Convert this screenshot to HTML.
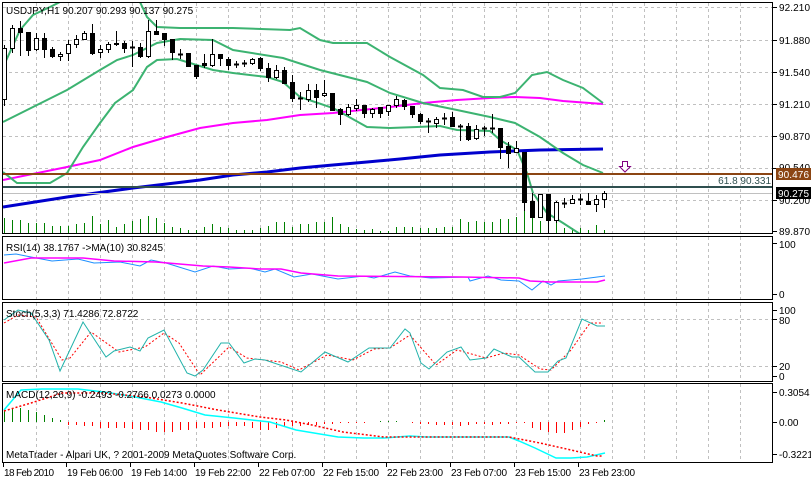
<!DOCTYPE html>
<html><head><meta charset="utf-8"><style>
html,body{margin:0;padding:0;background:#fff;}
svg{display:block;font-family:"Liberation Sans",sans-serif;font-size:10px;}
</style></head><body>
<svg id="s" width="811" height="479" viewBox="0 0 811 479" xmlns="http://www.w3.org/2000/svg">
<rect width="811" height="479" fill="#fff"/>
<defs>
<clipPath id="cm"><rect x="3" y="3" width="769" height="230"/></clipPath>
</defs>
<g id="grid" stroke="#c0c0c0" stroke-dasharray="3,3" stroke-width="1"></g>
<g id="main" clip-path="url(#cm)"></g>
<g id="low"></g>
<g fill="none" stroke="#000" stroke-width="1">
<rect x="2.5" y="2.5" width="770" height="231"/>
<rect x="2.5" y="236.5" width="770" height="63"/>
<rect x="2.5" y="302.5" width="770" height="79"/>
<rect x="2.5" y="383.5" width="770" height="79"/>
</g>
<g stroke="#000">
<line x1="773" y1="7.5" x2="777" y2="7.5"/><line x1="773" y1="40.5" x2="777" y2="40.5"/>
<line x1="773" y1="72.5" x2="777" y2="72.5"/><line x1="773" y1="104.5" x2="777" y2="104.5"/>
<line x1="773" y1="136.5" x2="777" y2="136.5"/><line x1="773" y1="168.5" x2="777" y2="168.5"/>
<line x1="773" y1="200.5" x2="777" y2="200.5"/><line x1="773" y1="231.5" x2="777" y2="231.5"/>
<line x1="773" y1="243.5" x2="777" y2="243.5"/><line x1="773" y1="294.5" x2="777" y2="294.5"/>
<line x1="773" y1="310.5" x2="777" y2="310.5"/><line x1="773" y1="319.5" x2="777" y2="319.5"/>
<line x1="773" y1="366.5" x2="777" y2="366.5"/><line x1="773" y1="376.5" x2="777" y2="376.5"/>
<line x1="773" y1="392.5" x2="777" y2="392.5"/><line x1="773" y1="422.5" x2="777" y2="422.5"/>
<line x1="773" y1="454.5" x2="777" y2="454.5"/>
</g>
<g fill="#000">
<text x="779" y="11" textLength="31">92.210</text>
<text x="779" y="44" textLength="31">91.880</text>
<text x="779" y="76" textLength="31">91.540</text>
<text x="779" y="108" textLength="31">91.210</text>
<text x="779" y="140" textLength="31">90.870</text>
<text x="779" y="171" textLength="31">90.540</text>
<text x="779" y="204" textLength="31">90.200</text>
<text x="779" y="235" textLength="31">89.870</text>
<text x="779" y="248">100</text>
<text x="779" y="298">0</text>
<text x="779" y="314">100</text>
<text x="779" y="324">80</text>
<text x="779" y="370">20</text>
<text x="779" y="380">0</text>
<text x="779" y="396">0.3054</text>
<text x="779" y="426">0.00</text>
<text x="779" y="458">-0.3221</text>
</g>
<rect x="776" y="168" width="35" height="12" fill="#8b4513"/>
<text x="778" y="178" fill="#fff" textLength="31">90.476</text>
<rect x="776" y="187" width="35" height="12" fill="#000"/>
<text x="778" y="197" fill="#fff" textLength="31">90.275</text>
<text x="771" y="184" fill="#2f4f4f" text-anchor="end">61.8 90.331</text>
<path d="M622.5,161.5h5v5h3l-5.5,5.5l-5.5,-5.5h3z" fill="#fff" stroke="#800080"/>
<text x="6" y="14" fill="#000">USDJPY,H1  90.207 90.293 90.137 90.275</text>
<text x="6" y="251" fill="#000">RSI(14) 38.1767  -&gt;MA(10) 30.8245</text>
<text x="6" y="317" fill="#000">Stoch(5,3,3) 71.4286 72.8722</text>
<text x="6" y="398" fill="#000">MACD(12,26,9) -0.2493 -0.2766 0.0273 0.0000</text>
<text x="6" y="458" fill="#000">MetaTrader - Alpari UK, ? 2001-2009 MetaQuotes Software Corp.</text>
<g fill="#000">
<text x="4" y="476" textLength="50">18 Feb 2010</text>
<text x="67" y="476" textLength="56">19 Feb 06:00</text>
<text x="131" y="476" textLength="56">19 Feb 14:00</text>
<text x="195" y="476" textLength="56">19 Feb 22:00</text>
<text x="259" y="476" textLength="56">22 Feb 07:00</text>
<text x="323" y="476" textLength="56">22 Feb 15:00</text>
<text x="387" y="476" textLength="56">22 Feb 23:00</text>
<text x="451" y="476" textLength="56">23 Feb 07:00</text>
<text x="515" y="476" textLength="56">23 Feb 15:00</text>
<text x="579" y="476" textLength="56">23 Feb 23:00</text>
</g>
<g stroke="#000">
<line x1="3.5" y1="463" x2="3.5" y2="467"/><line x1="66.5" y1="463" x2="66.5" y2="467"/>
<line x1="130.5" y1="463" x2="130.5" y2="467"/><line x1="194.5" y1="463" x2="194.5" y2="467"/>
<line x1="258.5" y1="463" x2="258.5" y2="467"/><line x1="322.5" y1="463" x2="322.5" y2="467"/>
<line x1="386.5" y1="463" x2="386.5" y2="467"/><line x1="450.5" y1="463" x2="450.5" y2="467"/>
<line x1="514.5" y1="463" x2="514.5" y2="467"/><line x1="578.5" y1="463" x2="578.5" y2="467"/>
</g>
</svg>
<script>
var NS="http://www.w3.org/2000/svg";
function el(p,t,a){var e=document.createElementNS(NS,t);for(var k in a)e.setAttribute(k,a[k]);p.appendChild(e);return e;}
var grid=document.getElementById("grid"),main=document.getElementById("main"),low=document.getElementById("low");
for(var x=36;x<772;x+=32){
 el(grid,"line",{x1:x+.5,y1:3,x2:x+.5,y2:233});
 el(grid,"line",{x1:x+.5,y1:237,x2:x+.5,y2:299});
 el(grid,"line",{x1:x+.5,y1:303,x2:x+.5,y2:381});
 el(grid,"line",{x1:x+.5,y1:384,x2:x+.5,y2:462});
}
[7,40,72,104,136,168,200].forEach(function(y){el(grid,"line",{x1:3,y1:y+.5,x2:772,y2:y+.5});});
[319,366].forEach(function(y){el(grid,"line",{x1:3,y1:y+.5,x2:772,y2:y+.5});});
function pl(p,pts,col,w,dash){var a={points:pts.map(function(q){return q.join(",")}).join(" "),fill:"none",stroke:col,"stroke-width":w};if(dash)a["stroke-dasharray"]=dash;el(p,"polyline",a);}
var vt=[218,218,220,220,223,223,223,226,226,226,224,223,216,224,220,227,224,221,219,216,218,223,227,228,230,230,227,224,227,228,230,230,230,228,226,222,222,227,224,224,222,222,217,224,227,229,230,229,231,231,227,227,227,228,228,228,227,227,219,222,221,222,222,219,219,217,210,217,221,221,221,228,228,228,230,225,230];
for(var i=0;i<76;i++){var x=4+8*i;el(main,"line",{x1:x+.5,y1:vt[i+1]||228,x2:x+.5,y2:233,stroke:"#008000"});}
pl(main,[[3,207],[67,197],[133,188],[200,180],[233,175],[267,172],[300,168],[333,165],[367,162],[400,159],[440,155],[490,152],[540,150],[603,149]],"#0000cd",3);
pl(main,[[3,180],[67,167],[100,160],[133,147],[167,137],[200,128],[233,123],[267,120],[300,115],[333,113],[390,107],[423,103],[457,100],[490,98],[515,97],[540,98],[563,101],[603,104]],"#ff00ff",2);
var g="#3cb371";
pl(main,[[3,70],[5,63],[20,30],[33,15],[50,7],[60,2]],g,2);
pl(main,[[140,2],[147,17],[157,27],[180,28],[233,28],[290,30],[300,28],[320,40],[333,43],[367,43],[390,57],[423,75],[440,88],[463,90],[483,97],[500,97],[515,93],[532,75],[547,72],[563,80],[583,88],[603,103]],g,2);
pl(main,[[3,122],[33,107],[67,90],[100,70],[117,60],[133,55],[147,48],[157,43],[180,39],[213,40],[233,50],[283,58],[320,70],[367,82],[390,93],[423,103],[457,110],[490,117],[515,123],[540,137],[563,153],[583,165],[603,173]],g,2);
pl(main,[[3,172],[17,183],[50,183],[67,173],[83,147],[100,123],[115,103],[133,90],[147,67],[157,60],[177,59],[213,70],[233,73],[267,77],[283,82],[300,97],[333,108],[367,127],[390,128],[417,127],[440,126],[457,130],[490,131],[500,140],[517,150],[527,173],[533,193],[547,213],[563,223],[580,234]],g,2);
el(main,"rect",{x:3,y:173,width:770,height:2,fill:"#8b4513"});
el(main,"rect",{x:3,y:186,width:770,height:2,fill:"#2f4f4f"});
el(main,"line",{x1:3,y1:193.5,x2:772,y2:193.5,stroke:"#c0c0c0"});
var C=[[48,99,0,45,105],[28,48,0,25,52],[28,32,1,21,55],[32,50,1,32,55],[38,49,0,33,50],[38,49,1,33,57],[49,56,1,47,57],[54,56,0,52,60],[44,53,0,40,60],[39,44,0,35,47],[33,39,0,31,39],[33,53,1,24,54],[49,52,0,45,57],[44,49,0,42,52],[43,44,1,31,45],[43,48,1,41,52],[47,47,2,41,66],[47,56,1,43,57],[31,56,0,20,57],[31,34,1,20,34],[33,39,1,33,45],[39,52,1,39,59],[54,54,2,49,58],[53,66,1,53,66],[65,76,1,65,78],[63,65,1,54,67],[54,65,0,39,66],[54,58,1,54,65],[59,65,1,57,69],[64,64,2,61,67],[63,63,2,60,66],[59,63,0,58,64],[58,68,1,57,70],[68,77,1,63,81],[70,77,0,65,78],[70,83,1,67,83],[82,98,1,75,101],[98,98,2,92,109],[90,99,0,84,101],[90,97,1,84,107],[93,95,0,80,96],[93,110,1,93,110],[109,114,1,108,124],[107,114,0,104,115],[105,108,0,99,110],[105,113,1,105,117],[109,113,0,108,117],[107,113,1,107,117],[105,111,0,105,115],[99,105,0,96,107],[100,106,1,99,109],[106,114,1,106,117],[114,121,1,113,123],[121,121,2,118,132],[119,123,0,117,127],[118,118,2,113,124],[117,126,1,112,126],[126,126,2,124,140],[126,139,1,123,140],[129,138,0,125,139],[128,128,2,126,135],[128,128,2,114,132],[128,147,1,128,158],[146,153,1,142,167],[148,152,0,141,152],[152,202,1,152,210],[201,217,1,193,217],[194,217,0,194,217],[194,220,1,194,233],[202,220,0,201,222],[203,203,2,198,207],[199,203,0,195,203],[199,199,2,194,204],[201,204,1,193,204],[199,204,0,195,211],[193,199,0,191,207]];
C.forEach(function(c,i){var x=4+8*i;
 el(main,"line",{x1:x+.5,y1:c[3],x2:x+.5,y2:c[4]+1,stroke:"#000"});
 if(c[2]==2){el(main,"line",{x1:x-2,y1:c[0]+.5,x2:x+3,y2:c[0]+.5,stroke:"#000","stroke-width":2});}
 else if(c[2]==1){el(main,"rect",{x:x-2,y:c[0],width:5,height:Math.max(2,c[1]-c[0]+1),fill:"#000"});}
 else{el(main,"rect",{x:x-1.5,y:c[0]+.5,width:4,height:Math.max(1,c[1]-c[0]),fill:"#fff",stroke:"#000"});}
});
pl(low,[[4,255],[16,254],[31,257],[52,261],[78,259],[94,263],[120,262],[140,266],[151,260],[166,263],[195,272],[213,266],[229,269],[249,268],[265,272],[275,269],[294,277],[312,274],[338,279],[364,276],[374,278],[395,272],[410,276],[431,278],[468,277],[470,281],[488,276],[501,280],[519,281],[532,290],[543,281],[551,285],[558,281],[582,279],[605,276]],"#1e90ff",1);
pl(low,[[4,263],[31,258],[83,258],[114,261],[156,262],[203,266],[229,267],[260,269],[281,269],[301,273],[338,276],[462,277],[519,278],[530,281],[551,282],[597,282],[605,280]],"#ff00ff",1.5);
pl(low,[[4,323],[18,315],[36,317],[62,360],[70,358],[91,332],[119,352],[145,347],[164,333],[179,343],[200,375],[229,347],[247,358],[281,362],[299,370],[327,355],[353,360],[374,349],[390,348],[410,335],[436,365],[457,350],[486,358],[504,353],[519,355],[540,369],[551,370],[571,350],[590,323],[603,323]],"#ff0000",1,"2,2");
pl(low,[[4,320],[18,310],[31,313],[49,340],[60,371],[83,322],[106,357],[114,351],[130,347],[140,351],[148,338],[164,330],[187,373],[195,376],[203,370],[221,343],[229,343],[244,363],[255,359],[265,360],[301,372],[325,352],[348,362],[369,348],[390,348],[405,329],[410,333],[421,363],[429,369],[447,352],[461,347],[470,360],[486,358],[494,349],[512,357],[519,357],[535,372],[548,372],[558,361],[566,358],[582,319],[597,326],[605,326]],"#20b2aa",1);
var h=[410,408,408,410,412,415,418,420,425,425,426,426,428,428,428,428,429,430,430,432,432,432,430,430,428,428,428,427,426,426,426,428,430,430,428,427,426,426,425,425,424,424,423,423,423,423,422,421,421,421,422,423,424,424,425,425,425,426,425,424,424,425,424,424,423,423,428,430,432,433,433,430,427,424,423,420];
h.forEach(function(y,i){var x=4+8*i;var pos=y<422;el(low,"line",{x1:x+.5,y1:pos?y:422,x2:x+.5,y2:pos?422:y,stroke:pos?"#008000":"#ff0000"});});
pl(low,[[4,410],[21,390],[42,389],[78,389],[104,392],[130,396],[161,402],[182,408],[205,415],[234,418],[270,422],[296,430],[338,437],[364,438],[384,438],[410,436],[426,437],[468,437],[509,437],[519,441],[535,448],[556,458],[571,458],[587,457],[605,453]],"#00ffff",1.5);
pl(low,[[4,411],[31,403],[62,393],[104,393],[145,397],[182,403],[218,410],[260,417],[286,420],[312,425],[343,432],[384,437],[509,437],[540,443],[571,450],[597,456],[603,456]],"#ff0000",1.5,"2,2");
</script>
</body></html>
